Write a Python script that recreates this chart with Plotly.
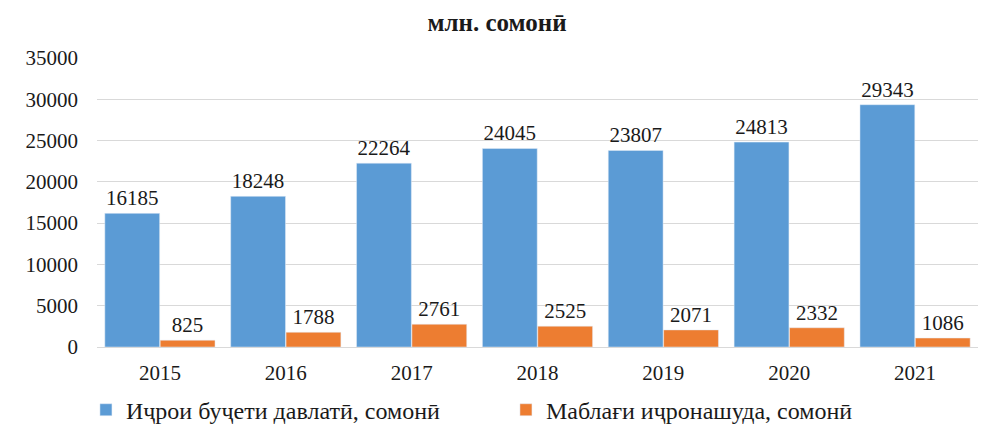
import plotly.graph_objects as go

years = ["2015", "2016", "2017", "2018", "2019", "2020", "2021"]
budget = [16185, 18248, 22264, 24045, 23807, 24813, 29343]
spent = [825, 1788, 2761, 2525, 2071, 2332, 1086]

FONT = "Liberation Serif, DejaVu Serif, serif"
TXT = {"size": 21, "color": "#1a1a1a", "family": FONT}

fig = go.Figure()
fig.add_trace(go.Bar(
    x=years, y=budget, name="Иҷрои буҷети давлатӣ, сомонӣ",
    marker={"color": "#5B9BD5"},
    text=budget, textposition="outside", cliponaxis=False,
    textfont=TXT, outsidetextfont=TXT,
))
fig.add_trace(go.Bar(
    x=years, y=spent, name="Маблағи иҷронашуда, сомонӣ",
    marker={"color": "#ED7D31"},
    text=spent, textposition="outside", cliponaxis=False,
    textfont=TXT, outsidetextfont=TXT,
))

# the page body adds an 8px offset, so margins are measured from there
fig.update_layout(
    width=988, height=426,
    margin={"l": 89, "r": 18, "t": 50, "b": 87, "autoexpand": False},
    paper_bgcolor="white", plot_bgcolor="white",
    font={"family": FONT, "size": 21, "color": "#1a1a1a"},
    title={"text": "<b>млн. сомонӣ</b>", "x": 0.495, "xanchor": "center",
           "y": 0.967, "yanchor": "middle", "font": {"size": 25, "family": FONT}},
    barmode="group", bargap=0.12, bargroupgap=0.01,
    showlegend=True,
    legend={"orientation": "h", "x": 0.504, "xanchor": "center", "xref": "container",
            "y": 0.056, "yanchor": "middle", "yref": "container",
            "font": {"size": 24, "family": FONT},
            "entrywidth": 375, "entrywidthmode": "pixels",
            "traceorder": "normal"},
    xaxis={"showgrid": False, "showline": True, "linecolor": "#d9d9d9",
           "ticks": "", "tickfont": TXT, "automargin": False,
           "ticklabelstandoff": 7},
    yaxis={"range": [0, 35000], "dtick": 5000, "tickformat": "d",
           "showgrid": True, "gridcolor": "#d9d9d9", "zeroline": False,
           "ticks": "", "tickfont": TXT, "ticklabelstandoff": 18,
           "automargin": False},
)

fig.write_html("out.html")
